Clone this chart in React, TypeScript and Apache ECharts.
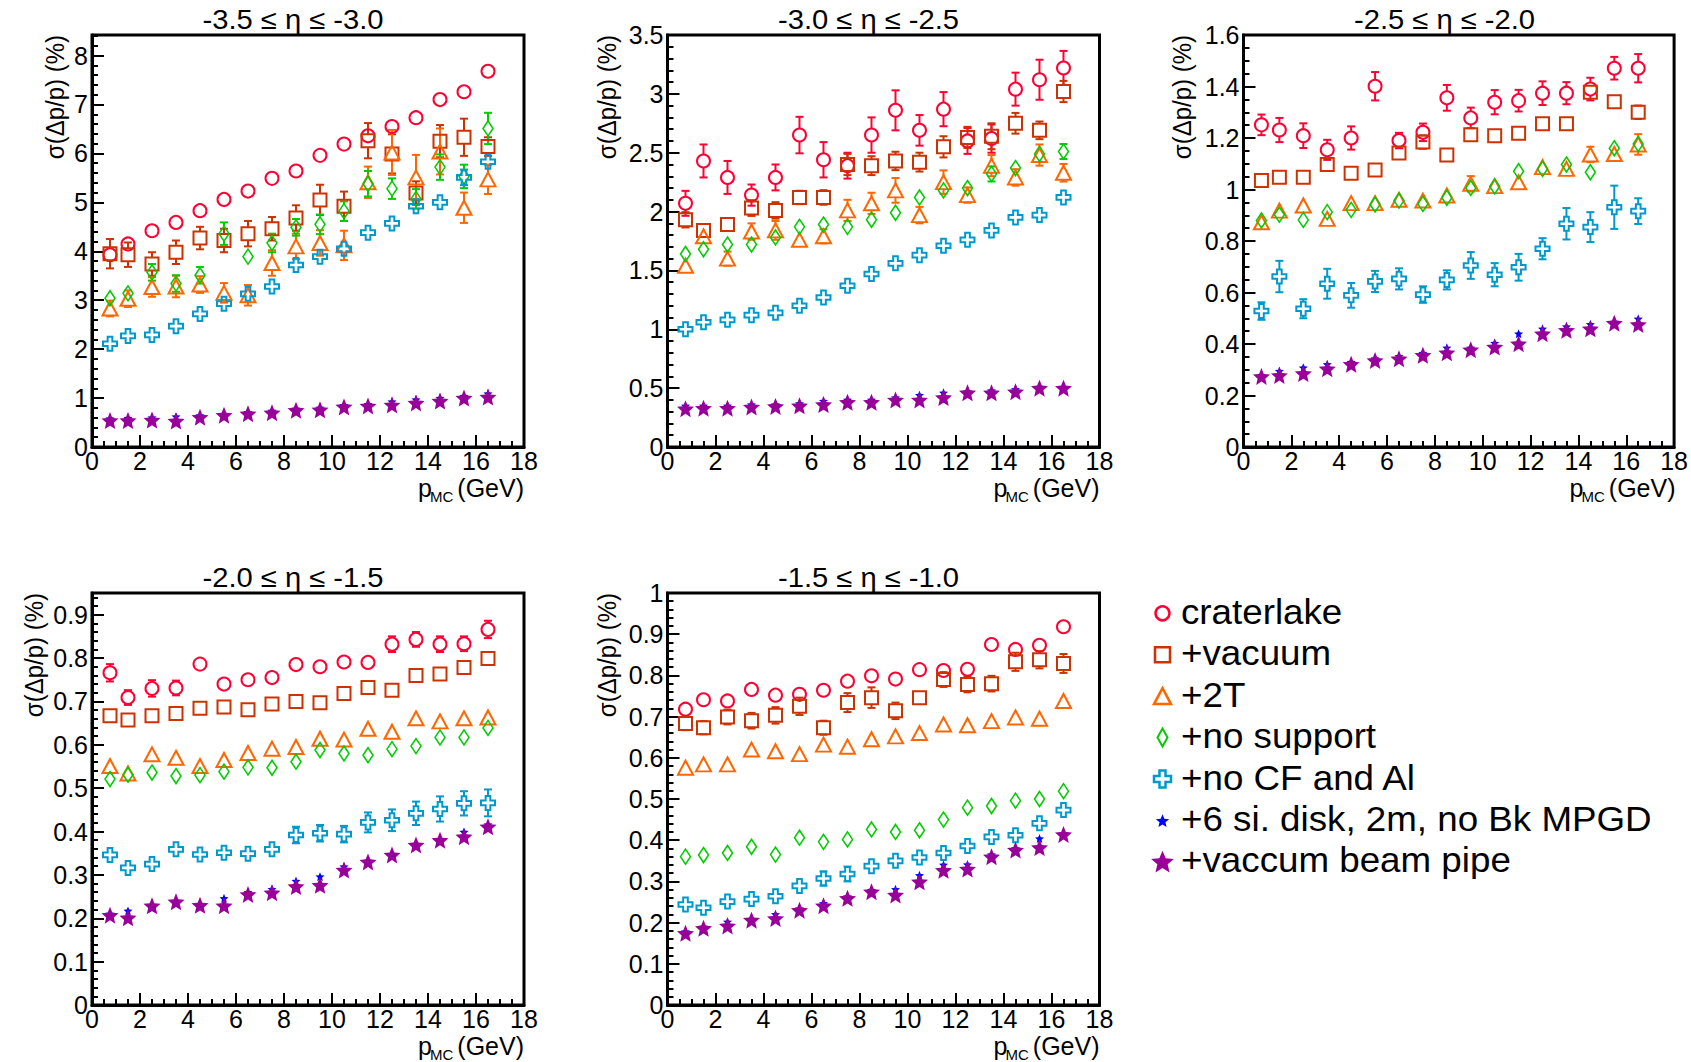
import React, { useEffect, useRef } from "react";
import * as echarts from "echarts";

// Momentum bins (GeV)
const pMC = [0.75, 1.5, 2.5, 3.5, 4.5, 5.5, 6.5, 7.5, 8.5, 9.5, 10.5, 11.5, 12.5, 13.5, 14.5, 15.5, 16.5];

const configNames = [
  "craterlake",
  "+vacuum",
  "+2T",
  "+no support",
  "+no CF and Al",
  "+6 si. disk, 2m, no Bk MPGD",
  "+vaccum beam pipe",
];

const etaTitles = ["-3.5 ≤ η ≤ -3.0", "-3.0 ≤ η ≤ -2.5", "-2.5 ≤ η ≤ -2.0", "-2.0 ≤ η ≤ -1.5", "-1.5 ≤ η ≤ -1.0"];

// y-axis ranges per eta bin
const yMax = [8.42, 3.5, 1.6, 0.95, 1.0];
const yMajor = [1, 0.5, 0.2, 0.1, 0.1];
const yMinor = [0.2, 0.1, 0.05, 0.02, 0.02];

// ---- -3.5 < eta < -3.0 ----
const a_craterlake = [3.93, 4.15, 4.42, 4.59, 4.83, 5.06, 5.23, 5.49, 5.64, 5.96, 6.19, 6.36, 6.55, 6.73, 7.1, 7.26, 7.68];
const a_craterlakeErr = [0.06, 0.06, 0.06, 0.06, 0.06, 0.06, 0.06, 0.06, 0.06, 0.06, 0.06, 0.06, 0.06, 0.06, 0.06, 0.06, 0.06];
const a_vacuum = [3.95, 3.93, 3.74, 3.98, 4.27, 4.22, 4.36, 4.46, 4.68, 5.05, 4.92, 6.26, 5.99, 5.19, 6.25, 6.33, 6.14];
const a_vacuumErr = [0.3, 0.25, 0.24, 0.24, 0.23, 0.24, 0.26, 0.24, 0.26, 0.31, 0.3, 0.36, 0.4, 0.24, 0.33, 0.38, 0.19];
const a_2T = [2.83, 3.03, 3.27, 3.28, 3.32, 3.15, 3.1, 3.76, 4.1, 4.17, 4.12, 5.41, 6.02, 5.51, 6.04, 4.89, 5.47];
const a_2TErr = [0.16, 0.17, 0.2, 0.22, 0.17, 0.2, 0.21, 0.26, 0.26, 0.26, 0.3, 0.32, 0.46, 0.46, 0.47, 0.31, 0.3];
const a_noSupport = [3.04, 3.14, 3.57, 3.34, 3.51, 4.36, 3.89, 4.17, 4.49, 4.55, 4.82, 5.38, 5.28, 5.07, 5.72, 5.53, 6.51];
const a_noSupportErr = [0.12, 0.14, 0.17, 0.17, 0.17, 0.23, 0.15, 0.19, 0.17, 0.2, 0.2, 0.26, 0.21, 0.2, 0.26, 0.24, 0.32];
const a_noCF = [2.11, 2.27, 2.29, 2.47, 2.72, 2.93, 3.13, 3.28, 3.72, 3.89, 4.05, 4.38, 4.57, 4.92, 5.0, 5.51, 5.83];
const a_noCFErr = [0.05, 0.05, 0.06, 0.06, 0.07, 0.08, 0.1, 0.08, 0.1, 0.1, 0.1, 0.1, 0.1, 0.1, 0.1, 0.16, 0.14];
const a_siDisk = [0.58, 0.59, 0.6, 0.62, 0.64, 0.67, 0.71, 0.74, 0.78, 0.8, 0.85, 0.87, 0.93, 0.97, 1.0, 1.04, 1.09];
const a_siDiskErr = [0.03, 0.03, 0.03, 0.03, 0.03, 0.03, 0.03, 0.03, 0.03, 0.03, 0.03, 0.03, 0.03, 0.03, 0.03, 0.03, 0.03];
const a_beamPipe = [0.54, 0.54, 0.55, 0.53, 0.61, 0.65, 0.68, 0.7, 0.75, 0.76, 0.82, 0.84, 0.86, 0.9, 0.94, 1.0, 1.02];
const a_beamPipeErr = [0.04, 0.04, 0.04, 0.04, 0.04, 0.04, 0.04, 0.04, 0.04, 0.04, 0.04, 0.04, 0.04, 0.04, 0.04, 0.04, 0.04];

// ---- -3.0 < eta < -2.5 ----
const b_craterlake = [2.07, 2.43, 2.29, 2.14, 2.29, 2.65, 2.44, 2.39, 2.65, 2.86, 2.69, 2.87, 2.6, 2.62, 3.04, 3.12, 3.22];
const b_craterlakeErr = [0.106, 0.14, 0.14, 0.09, 0.11, 0.155, 0.15, 0.11, 0.15, 0.17, 0.13, 0.145, 0.11, 0.12, 0.14, 0.17, 0.145];
const b_vacuum = [1.93, 1.84, 1.89, 2.03, 2.01, 2.12, 2.12, 2.4, 2.39, 2.43, 2.42, 2.55, 2.63, 2.64, 2.75, 2.69, 3.02];
const b_vacuumErr = [0.065, 0.055, 0.05, 0.067, 0.07, 0.057, 0.062, 0.09, 0.08, 0.078, 0.08, 0.09, 0.09, 0.11, 0.088, 0.075, 0.09];
const b_2T = [1.54, 1.79, 1.6, 1.83, 1.84, 1.76, 1.79, 2.01, 2.07, 2.18, 1.97, 2.25, 2.14, 2.39, 2.29, 2.48, 2.33];
const b_2TErr = [0.05, 0.05, 0.06, 0.07, 0.08, 0.05, 0.06, 0.09, 0.09, 0.105, 0.07, 0.1, 0.065, 0.09, 0.07, 0.09, 0.075];
const b_noSupport = [1.64, 1.68, 1.72, 1.72, 1.78, 1.87, 1.89, 1.87, 1.93, 1.99, 2.12, 2.18, 2.2, 2.32, 2.37, 2.49, 2.51];
const b_noSupportErr = [0.03, 0.03, 0.03, 0.03, 0.03, 0.03, 0.03, 0.03, 0.03, 0.03, 0.055, 0.057, 0.05, 0.064, 0.057, 0.06, 0.064];
const b_noCF = [1.0, 1.06, 1.08, 1.12, 1.14, 1.2, 1.27, 1.37, 1.47, 1.56, 1.63, 1.71, 1.76, 1.84, 1.95, 1.97, 2.12];
const b_noCFErr = [0.025, 0.025, 0.025, 0.025, 0.025, 0.025, 0.025, 0.025, 0.025, 0.025, 0.025, 0.025, 0.025, 0.025, 0.025, 0.025, 0.025];
const b_siDisk = [0.35, 0.35, 0.35, 0.36, 0.36, 0.37, 0.39, 0.4, 0.4, 0.42, 0.44, 0.46, 0.47, 0.48, 0.49, 0.51, 0.5];
const b_siDiskErr = [0.015, 0.015, 0.015, 0.015, 0.015, 0.015, 0.015, 0.015, 0.015, 0.015, 0.015, 0.015, 0.015, 0.015, 0.015, 0.015, 0.015];
const b_beamPipe = [0.325, 0.33, 0.33, 0.34, 0.345, 0.35, 0.36, 0.38, 0.38, 0.4, 0.4, 0.42, 0.46, 0.46, 0.47, 0.5, 0.5];
const b_beamPipeErr = [0.02, 0.02, 0.02, 0.02, 0.02, 0.02, 0.02, 0.02, 0.02, 0.02, 0.02, 0.02, 0.02, 0.02, 0.02, 0.02, 0.02];

// ---- -2.5 < eta < -2.0 ----
const c_craterlake = [1.251, 1.231, 1.209, 1.154, 1.2, 1.401, 1.19, 1.222, 1.356, 1.278, 1.339, 1.345, 1.374, 1.374, 1.39, 1.471, 1.471];
const c_craterlakeErr = [0.04, 0.047, 0.048, 0.039, 0.045, 0.055, 0.03, 0.034, 0.05, 0.04, 0.047, 0.042, 0.046, 0.043, 0.044, 0.044, 0.055];
const c_vacuum = [1.035, 1.048, 1.048, 1.097, 1.063, 1.076, 1.142, 1.184, 1.134, 1.213, 1.209, 1.218, 1.255, 1.255, 1.378, 1.341, 1.3];
const c_vacuumErr = [0.012, 0.012, 0.012, 0.012, 0.012, 0.012, 0.02, 0.026, 0.012, 0.012, 0.012, 0.012, 0.012, 0.012, 0.025, 0.02, 0.026];
const c_2T = [0.873, 0.918, 0.938, 0.886, 0.947, 0.947, 0.96, 0.957, 0.977, 1.022, 1.013, 1.028, 1.087, 1.08, 1.136, 1.138, 1.175];
const c_2TErr = [0.025, 0.025, 0.02, 0.02, 0.02, 0.02, 0.025, 0.025, 0.025, 0.03, 0.025, 0.02, 0.025, 0.02, 0.03, 0.025, 0.04];
const c_noSupport = [0.88, 0.902, 0.882, 0.912, 0.921, 0.942, 0.957, 0.944, 0.968, 1.006, 1.012, 1.071, 1.08, 1.097, 1.067, 1.16, 1.177];
const c_noSupportErr = [0.015, 0.015, 0.015, 0.015, 0.015, 0.015, 0.015, 0.015, 0.015, 0.015, 0.015, 0.015, 0.015, 0.015, 0.015, 0.02, 0.025];
const c_noCF = [0.528, 0.662, 0.537, 0.634, 0.589, 0.643, 0.653, 0.592, 0.649, 0.705, 0.669, 0.698, 0.77, 0.867, 0.854, 0.931, 0.916];
const c_noCFErr = [0.034, 0.061, 0.037, 0.058, 0.048, 0.041, 0.041, 0.032, 0.037, 0.052, 0.045, 0.052, 0.041, 0.061, 0.058, 0.084, 0.05];
const c_siDisk = [0.278, 0.295, 0.308, 0.321, 0.33, 0.343, 0.352, 0.365, 0.385, 0.385, 0.404, 0.44, 0.459, 0.468, 0.476, 0.485, 0.498];
const c_siDiskErr = [0.012, 0.012, 0.012, 0.012, 0.012, 0.012, 0.012, 0.012, 0.012, 0.012, 0.012, 0.012, 0.012, 0.012, 0.012, 0.012, 0.012];
const c_beamPipe = [0.274, 0.278, 0.285, 0.304, 0.321, 0.336, 0.343, 0.356, 0.366, 0.378, 0.388, 0.401, 0.44, 0.453, 0.459, 0.481, 0.476];
const c_beamPipeErr = [0.015, 0.015, 0.015, 0.015, 0.015, 0.015, 0.015, 0.015, 0.015, 0.015, 0.015, 0.015, 0.015, 0.015, 0.015, 0.015, 0.015];

// ---- -2.0 < eta < -1.5 ----
const d_craterlake = [0.766, 0.709, 0.73, 0.731, 0.786, 0.74, 0.75, 0.755, 0.785, 0.78, 0.791, 0.79, 0.832, 0.843, 0.832, 0.833, 0.866];
const d_craterlakeErr = [0.02, 0.017, 0.019, 0.017, 0.01, 0.01, 0.01, 0.01, 0.01, 0.01, 0.01, 0.01, 0.018, 0.017, 0.018, 0.017, 0.02];
const d_vacuum = [0.667, 0.657, 0.667, 0.672, 0.684, 0.687, 0.681, 0.694, 0.7, 0.697, 0.718, 0.732, 0.726, 0.76, 0.763, 0.778, 0.799];
const d_vacuumErr = [0.008, 0.008, 0.008, 0.008, 0.008, 0.008, 0.008, 0.008, 0.008, 0.008, 0.008, 0.008, 0.008, 0.008, 0.008, 0.008, 0.008];
const d_2T = [0.551, 0.534, 0.578, 0.57, 0.551, 0.565, 0.581, 0.591, 0.595, 0.614, 0.612, 0.637, 0.63, 0.661, 0.654, 0.661, 0.663];
const d_2TErr = [0.008, 0.008, 0.008, 0.008, 0.008, 0.008, 0.008, 0.008, 0.008, 0.008, 0.008, 0.008, 0.008, 0.008, 0.008, 0.008, 0.008];
const d_noSupport = [0.521, 0.531, 0.536, 0.528, 0.53, 0.538, 0.548, 0.547, 0.561, 0.588, 0.58, 0.576, 0.59, 0.597, 0.617, 0.617, 0.639];
const d_noSupportErr = [0.008, 0.008, 0.008, 0.008, 0.008, 0.008, 0.008, 0.008, 0.008, 0.008, 0.008, 0.008, 0.008, 0.008, 0.008, 0.008, 0.008];
const d_noCF = [0.346, 0.316, 0.325, 0.359, 0.347, 0.351, 0.349, 0.359, 0.392, 0.396, 0.394, 0.421, 0.426, 0.442, 0.452, 0.465, 0.466];
const d_noCFErr = [0.012, 0.01, 0.01, 0.012, 0.01, 0.01, 0.01, 0.01, 0.019, 0.019, 0.019, 0.023, 0.025, 0.027, 0.029, 0.028, 0.031];
const d_siDisk = [0.21, 0.217, 0.223, 0.238, 0.23, 0.246, 0.26, 0.267, 0.286, 0.296, 0.319, 0.332, 0.347, 0.369, 0.382, 0.399, 0.416];
const d_siDiskErr = [0.01, 0.01, 0.01, 0.01, 0.01, 0.01, 0.01, 0.01, 0.01, 0.01, 0.01, 0.01, 0.01, 0.01, 0.01, 0.01, 0.01];
const d_beamPipe = [0.207, 0.201, 0.229, 0.238, 0.23, 0.229, 0.255, 0.259, 0.273, 0.276, 0.311, 0.33, 0.346, 0.369, 0.38, 0.388, 0.411];
const d_beamPipeErr = [0.012, 0.014, 0.012, 0.01, 0.01, 0.012, 0.01, 0.01, 0.014, 0.017, 0.017, 0.01, 0.012, 0.012, 0.012, 0.012, 0.012];

// ---- -1.5 < eta < -1.0 ----
const e_craterlake = [0.718, 0.741, 0.738, 0.766, 0.752, 0.754, 0.764, 0.786, 0.799, 0.791, 0.814, 0.812, 0.815, 0.875, 0.863, 0.873, 0.918];
const e_craterlakeErr = [0.008, 0.008, 0.008, 0.008, 0.008, 0.008, 0.008, 0.008, 0.008, 0.008, 0.008, 0.008, 0.008, 0.008, 0.008, 0.008, 0.008];
const e_vacuum = [0.683, 0.673, 0.699, 0.69, 0.703, 0.725, 0.673, 0.734, 0.746, 0.714, 0.746, 0.79, 0.778, 0.78, 0.833, 0.838, 0.829];
const e_vacuumErr = [0.016, 0.016, 0.018, 0.019, 0.02, 0.021, 0.017, 0.023, 0.025, 0.02, 0.015, 0.018, 0.019, 0.019, 0.022, 0.021, 0.023];
const e_2T = [0.576, 0.584, 0.584, 0.62, 0.616, 0.609, 0.632, 0.627, 0.645, 0.652, 0.66, 0.681, 0.679, 0.689, 0.698, 0.695, 0.738];
const e_2TErr = [0.008, 0.008, 0.008, 0.008, 0.008, 0.008, 0.008, 0.008, 0.008, 0.008, 0.008, 0.008, 0.008, 0.008, 0.008, 0.008, 0.008];
const e_noSupport = [0.36, 0.364, 0.369, 0.384, 0.365, 0.406, 0.396, 0.402, 0.426, 0.42, 0.424, 0.45, 0.479, 0.483, 0.496, 0.5, 0.519];
const e_noSupportErr = [0.008, 0.008, 0.008, 0.008, 0.008, 0.008, 0.008, 0.008, 0.008, 0.008, 0.008, 0.017, 0.008, 0.008, 0.008, 0.008, 0.008];
const e_noCF = [0.244, 0.236, 0.251, 0.257, 0.264, 0.289, 0.307, 0.318, 0.337, 0.35, 0.358, 0.369, 0.386, 0.408, 0.412, 0.441, 0.473];
const e_noCFErr = [0.01, 0.01, 0.01, 0.01, 0.01, 0.01, 0.017, 0.018, 0.01, 0.01, 0.01, 0.01, 0.01, 0.01, 0.01, 0.012, 0.016];
const e_siDisk = [0.178, 0.19, 0.202, 0.208, 0.22, 0.234, 0.247, 0.263, 0.279, 0.281, 0.315, 0.34, 0.341, 0.365, 0.38, 0.404, 0.416];
const e_siDiskErr = [0.008, 0.008, 0.008, 0.008, 0.008, 0.008, 0.008, 0.008, 0.008, 0.008, 0.008, 0.008, 0.008, 0.008, 0.008, 0.008, 0.008];
const e_beamPipe = [0.174, 0.186, 0.192, 0.206, 0.21, 0.23, 0.241, 0.259, 0.275, 0.267, 0.299, 0.327, 0.33, 0.36, 0.376, 0.382, 0.414];
const e_beamPipeErr = [0.01, 0.01, 0.01, 0.01, 0.01, 0.01, 0.01, 0.01, 0.01, 0.016, 0.016, 0.01, 0.01, 0.01, 0.01, 0.01, 0.01];

const panelValues = [
  [a_craterlake, a_vacuum, a_2T, a_noSupport, a_noCF, a_siDisk, a_beamPipe],
  [b_craterlake, b_vacuum, b_2T, b_noSupport, b_noCF, b_siDisk, b_beamPipe],
  [c_craterlake, c_vacuum, c_2T, c_noSupport, c_noCF, c_siDisk, c_beamPipe],
  [d_craterlake, d_vacuum, d_2T, d_noSupport, d_noCF, d_siDisk, d_beamPipe],
  [e_craterlake, e_vacuum, e_2T, e_noSupport, e_noCF, e_siDisk, e_beamPipe],
];
const panelErrors = [
  [a_craterlakeErr, a_vacuumErr, a_2TErr, a_noSupportErr, a_noCFErr, a_siDiskErr, a_beamPipeErr],
  [b_craterlakeErr, b_vacuumErr, b_2TErr, b_noSupportErr, b_noCFErr, b_siDiskErr, b_beamPipeErr],
  [c_craterlakeErr, c_vacuumErr, c_2TErr, c_noSupportErr, c_noCFErr, c_siDiskErr, c_beamPipeErr],
  [d_craterlakeErr, d_vacuumErr, d_2TErr, d_noSupportErr, d_noCFErr, d_siDiskErr, d_beamPipeErr],
  [e_craterlakeErr, e_vacuumErr, e_2TErr, e_noSupportErr, e_noCFErr, e_siDiskErr, e_beamPipeErr],
];

const FONT = "'Liberation Sans', Arial, Helvetica, sans-serif";

const CROSS = "path://M4,0H8V4H12V8H8V12H4V8H0V4H4Z";
// five-pointed star with a fairly wide body
const STAR =
  "path://M50,0L63.23,31.8L97.55,34.55L71.4,56.95L79.39,90.45L50,72.5L20.61,90.45L28.6,56.95L2.45,34.55L36.77,31.8Z";

type Marker = { symbol: string; size: number | number[]; color: string; hollow: boolean; bw: number; half: number };
const markers: Marker[] = [
  { symbol: "circle", size: 13, color: "#ff0033", hollow: true, bw: 2, half: 6.5 },
  { symbol: "rect", size: 13, color: "#cc3300", hollow: true, bw: 2, half: 6.5 },
  { symbol: "triangle", size: [15, 14], color: "#ff6600", hollow: true, bw: 2, half: 6.5 },
  { symbol: "diamond", size: [10, 15], color: "#00cc00", hollow: true, bw: 1.6, half: 7.5 },
  { symbol: CROSS, size: 14, color: "#0099cc", hollow: true, bw: 2, half: 7 },
  { symbol: STAR, size: 9, color: "#0000ff", hollow: false, bw: 0, half: 4.5 },
  { symbol: STAR, size: 17, color: "#990099", hollow: false, bw: 0, half: 8.5 },
];

// frame boxes of the five pads
const frames = [
  { left: 92, top: 35, width: 432, height: 412 },
  { left: 667.5, top: 35, width: 432, height: 412 },
  { left: 1243.5, top: 35, width: 432, height: 412 },
  { left: 92, top: 593, width: 432, height: 412 },
  { left: 667.5, top: 593, width: 432, height: 412 },
];
const yTitleOffset = [37, 60, 61, 58, 60];

function errorBars(half: number, color: string) {
  return (_params: any, api: any) => {
    const x = api.value(0);
    const y = api.value(1);
    const e = api.value(2);
    const c = api.coord([x, y]);
    const hi = api.coord([x, y + e]);
    const lo = api.coord([x, y - e]);
    const style = { stroke: color, lineWidth: 2 };
    const cap = 4;
    const children: any[] = [];
    if (c[1] - hi[1] > half) {
      children.push({ type: "line", shape: { x1: c[0], y1: c[1] - half, x2: c[0], y2: hi[1] }, style });
      children.push({ type: "line", shape: { x1: c[0] - cap, y1: hi[1], x2: c[0] + cap, y2: hi[1] }, style });
    }
    if (lo[1] - c[1] > half) {
      children.push({ type: "line", shape: { x1: c[0], y1: c[1] + half, x2: c[0], y2: lo[1] }, style });
      children.push({ type: "line", shape: { x1: c[0] - cap, y1: lo[1], x2: c[0] + cap, y2: lo[1] }, style });
    }
    return { type: "group", children };
  };
}

function starPoints(cx: number, cy: number, R: number, r: number) {
  const pts: number[][] = [];
  for (let k = 0; k < 10; k++) {
    const ang = (-90 + k * 36) * (Math.PI / 180);
    const rad = k % 2 === 0 ? R : r;
    pts.push([cx + rad * Math.cos(ang), cy + rad * Math.sin(ang)]);
  }
  return pts;
}

function legendMarker(i: number, cx: number, cy: number): any {
  const m = markers[i];
  const stroke = { fill: "none", stroke: m.color, lineWidth: 2.5 };
  switch (i) {
    case 0:
      return { type: "circle", shape: { cx, cy, r: 7 }, style: stroke };
    case 1:
      return { type: "rect", shape: { x: cx - 7.5, y: cy - 7.5, width: 15, height: 15 }, style: stroke };
    case 2:
      return { type: "polygon", shape: { points: [[cx, cy - 8], [cx - 8.5, cy + 8], [cx + 8.5, cy + 8]] }, style: stroke };
    case 3:
      return { type: "polygon", shape: { points: [[cx, cy - 9], [cx + 5, cy], [cx, cy + 9], [cx - 5, cy]] }, style: { ...stroke, lineWidth: 2 } };
    case 4: {
      const a = 3, b = 8.5;
      return {
        type: "polygon",
        shape: {
          points: [
            [cx - a, cy - b], [cx + a, cy - b], [cx + a, cy - a], [cx + b, cy - a], [cx + b, cy + a], [cx + a, cy + a],
            [cx + a, cy + b], [cx - a, cy + b], [cx - a, cy + a], [cx - b, cy + a], [cx - b, cy - a], [cx - a, cy - a],
          ],
        },
        style: stroke,
      };
    }
    case 5:
      return { type: "polygon", shape: { points: starPoints(cx, cy + 1, 7, 3.1) }, style: { fill: m.color } };
    default:
      return { type: "polygon", shape: { points: starPoints(cx, cy + 1, 12, 5.4) }, style: { fill: m.color } };
  }
}

function buildOption() {
  const grid: any[] = [];
  const xAxis: any[] = [];
  const yAxis: any[] = [];
  const series: any[] = [];
  const graphic: any[] = [];

  frames.forEach((f, p) => {
    grid.push({ ...f, show: true, borderColor: "#000", borderWidth: 3, backgroundColor: "transparent" });

    xAxis.push({
      type: "value",
      gridIndex: p,
      min: 0,
      max: 18,
      interval: 2,
      position: "bottom",
      axisLine: { show: true, onZero: false, lineStyle: { color: "#000", width: 3 } },
      axisTick: { show: true, inside: true, length: 12, lineStyle: { color: "#000", width: 2 } },
      minorTick: { show: true, splitNumber: 4, length: 6, lineStyle: { color: "#000", width: 2 } },
      splitLine: { show: false },
      minorSplitLine: { show: false },
      axisLabel: { fontSize: 25, color: "#000", margin: 1, fontFamily: FONT },
    });

    const step = yMajor[p];
    // labelled major ticks
    yAxis.push({
      type: "value",
      gridIndex: p,
      min: 0,
      max: yMax[p],
      interval: step,
      position: "left",
      axisLine: { show: true, onZero: false, lineStyle: { color: "#000", width: 3 } },
      axisTick: { show: true, inside: true, length: 12, lineStyle: { color: "#000", width: 2 } },
      splitLine: { show: false },
      axisLabel: {
        fontSize: 25,
        color: "#000",
        margin: 4,
        fontFamily: FONT,
        formatter: (v: number) => {
          const k = v / step;
          if (Math.abs(k - Math.round(k)) > 1e-6) return "";
          return String(Math.round(v * 100) / 100);
        },
      },
    });
    // fine ticks
    yAxis.push({
      type: "value",
      gridIndex: p,
      min: 0,
      max: yMax[p],
      interval: yMinor[p],
      position: "left",
      axisLine: { show: false },
      axisTick: { show: true, inside: true, length: 6, lineStyle: { color: "#000", width: 2 } },
      splitLine: { show: false },
      axisLabel: { show: false },
    });

    markers.forEach((m, s) => {
      const vals = panelValues[p][s];
      const errs = panelErrors[p][s];
      series.push({
        type: "custom",
        name: configNames[s],
        xAxisIndex: p,
        yAxisIndex: 2 * p,
        silent: true,
        z: 2,
        data: pMC.map((x, k) => [x, vals[k], errs[k]]),
        renderItem: errorBars(m.half, m.color),
      });
      series.push({
        type: "scatter",
        name: configNames[s],
        xAxisIndex: p,
        yAxisIndex: 2 * p,
        silent: true,
        z: 2,
        symbol: m.symbol,
        symbolSize: m.size,
        data: pMC.map((x, k) => [x, vals[k]]),
        itemStyle: m.hollow
          ? { color: "rgba(0,0,0,0)", borderColor: m.color, borderWidth: m.bw, opacity: 1 }
          : { color: m.color, borderWidth: 0, opacity: 1 },
      });
    });

    const R = f.left + f.width;
    const B = f.top + f.height;
    // pad title
    graphic.push({
      type: "text",
      x: f.left + f.width / 2 - 15,
      y: f.top - 15,
      scaleX: 1.08,
      style: { text: etaTitles[p], fontSize: 27, fontFamily: FONT, fill: "#000", align: "center", verticalAlign: "middle" },
    });
    // y title
    graphic.push({
      type: "text",
      x: f.left - yTitleOffset[p],
      y: f.top,
      rotation: Math.PI / 2,
      scaleY: 1.06,
      style: { text: "σ(Δp/p) (%)", fontSize: 24, fontFamily: FONT, fill: "#000", align: "right", verticalAlign: "middle" },
    });
    // x title: p_MC (GeV)
    graphic.push({
      type: "text",
      x: R - 106,
      y: B + 41,
      style: { text: "p", fontSize: 25, fontFamily: FONT, fill: "#000", align: "left", verticalAlign: "middle" },
    });
    graphic.push({
      type: "text",
      x: R - 94,
      y: B + 49.5,
      style: { text: "MC", fontSize: 15, fontFamily: FONT, fill: "#000", align: "left", verticalAlign: "middle" },
    });
    graphic.push({
      type: "text",
      x: R,
      y: B + 41,
      style: { text: "(GeV)", fontSize: 25, fontFamily: FONT, fill: "#000", align: "right", verticalAlign: "middle" },
    });
  });

  // legend
  configNames.forEach((name, i) => {
    const cy = 613.3 + 41.4 * i;
    graphic.push(legendMarker(i, 1162.5, cy));
    graphic.push({
      type: "text",
      x: 1181,
      y: cy - 1,
      scaleX: 1.05,
      style: { text: name, fontSize: 35, fontFamily: FONT, fill: "#000", align: "left", verticalAlign: "middle" },
    });
  });

  return {
    animation: false,
    backgroundColor: "#fff",
    textStyle: { fontFamily: FONT },
    grid,
    xAxis,
    yAxis,
    series,
    graphic,
  };
}

export default function App() {
  const ref = useRef<HTMLDivElement>(null);
  useEffect(() => {
    if (!ref.current) return;
    const chart = echarts.init(ref.current, undefined, { renderer: "svg" });
    chart.setOption(buildOption());
    return () => chart.dispose();
  }, []);
  return (
    <div
      ref={ref}
      style={{ position: "absolute", left: 0, top: 0, width: 1691, height: 1062, background: "#fff" }}
    />
  );
}
